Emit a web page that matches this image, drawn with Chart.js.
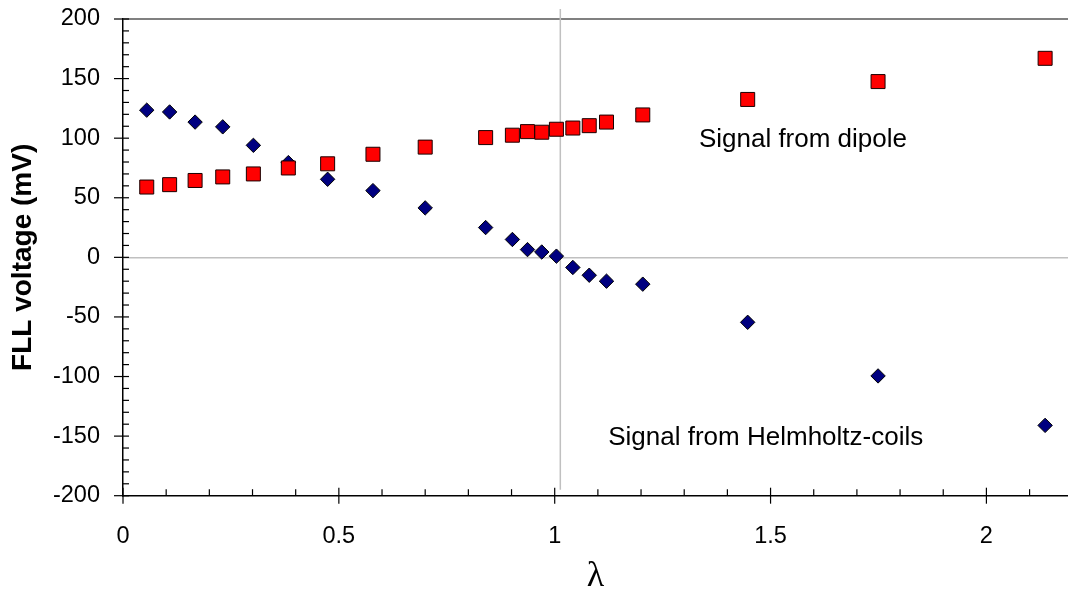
<!DOCTYPE html>
<html>
<head>
<meta charset="utf-8">
<title>FLL voltage</title>
<script src="https://cdn.jsdelivr.net/npm/chart.js@4.4.1/dist/chart.umd.min.js"></script>
<style>
  html, body { margin: 0; padding: 0; background: #fff; }
  #chart { display: block; }
</style>
</head>
<body>
<canvas id="chart" width="1068" height="598"></canvas>
<script>
// lambda for each measurement (same for both signals)
const lambdaVals = [0.055, 0.108, 0.167, 0.231, 0.302, 0.383, 0.474, 0.579, 0.700, 0.840, 0.902, 0.937, 0.970, 1.004, 1.042, 1.080, 1.120, 1.204, 1.447, 1.749, 2.136];
const dipoleMv = [59, 61, 64.5, 67.5, 70, 75, 78.5, 86.5, 92.5, 100.5, 102.5, 105.5, 105, 107.5, 108.5, 110.5, 113.5, 119.5, 132.5, 147.5, 167];
const helmholtzMv = [123.5, 122, 113.5, 109.5, 94, 79.5, 65.5, 56, 41.5, 25, 15, 6.5, 4.5, 1, -8.5, -15, -20, -22.5, -54.5, -99.5, -141];

const yTickLabels = [-200, -150, -100, -50, 0, 50, 100, 150, 200];
const xTickLabels = [0, 0.5, 1, 1.5, 2];

// thin vertical reference line
const markerLambda = 1.013;

// free text labels, placed in data units (left edge / baseline)
const notes = [
  { text: "Signal from dipole", x: 1.334, y: 92.4 },
  { text: "Signal from Helmholtz-coils", x: 1.124, y: -157.2 },
];

const toPoints = (ys) => lambdaVals.map((l, i) => ({ x: l, y: ys[i] }));

// minor/major tick marks, the lambda line and the text labels
const axisDecor = {
  id: "axisDecor",
  beforeDatasetsDraw(chart) {
    const { ctx, chartArea, scales } = chart;
    const x = scales.x;
    const y = scales.y;
    ctx.save();

    ctx.strokeStyle = "#c0c0c0";
    ctx.lineWidth = 1.5;
    const mx = x.getPixelForValue(markerLambda);
    ctx.beginPath();
    ctx.moveTo(mx, chartArea.top - 10);
    ctx.lineTo(mx, chartArea.bottom - 6);
    ctx.stroke();

    ctx.strokeStyle = "#000";
    ctx.lineWidth = 1.2;
    for (let v = -200; v <= 200; v += 10) {
      const py = y.getPixelForValue(v);
      const major = v % 50 === 0;
      ctx.beginPath();
      ctx.moveTo(chartArea.left - (major ? 9 : 0), py);
      ctx.lineTo(chartArea.left + 6, py);
      ctx.stroke();
    }
    for (let i = 0; i / 10 <= x.max; i++) {
      const px = x.getPixelForValue(i / 10);
      const major = i % 5 === 0;
      ctx.beginPath();
      ctx.moveTo(px, chartArea.bottom - (major ? 8 : 6.5));
      ctx.lineTo(px, chartArea.bottom + (major ? 8 : 0));
      ctx.stroke();
    }
    ctx.restore();
  },
  afterDraw(chart) {
    const { ctx, scales } = chart;
    ctx.save();
    ctx.fillStyle = "#000";
    ctx.font = '26px "Liberation Sans", Arial, sans-serif';
    ctx.textAlign = "left";
    ctx.textBaseline = "alphabetic";
    notes.forEach((n) => {
      ctx.fillText(n.text, scales.x.getPixelForValue(n.x), scales.y.getPixelForValue(n.y));
    });
    ctx.restore();
  },
};

const tickFont = { family: '"Liberation Sans", Arial, sans-serif', size: 23.5 };

const ctx = document.getElementById("chart").getContext("2d");
const chart = new Chart(ctx, {
  type: "scatter",
  data: {
    datasets: [
      {
        label: "Signal from dipole",
        data: toPoints(dipoleMv),
        pointStyle: "rect",
        pointRadius: 9.9,
        pointHoverRadius: 9.9,
        backgroundColor: "#ff0000",
        borderColor: "#1a0000",
        borderWidth: 1,
      },
      {
        label: "Signal from Helmholtz-coils",
        data: toPoints(helmholtzMv),
        pointStyle: "rectRot",
        pointRadius: 7.2,
        pointHoverRadius: 7.2,
        backgroundColor: "#000080",
        borderColor: "#000",
        borderWidth: 1,
      },
    ],
  },
  options: {
    responsive: false,
    animation: false,
    layout: { autoPadding: false, padding: { top: 19, right: 0, bottom: 0, left: 0 } },
    plugins: {
      legend: { display: false },
      tooltip: { enabled: false },
    },
    scales: {
      x: {
        type: "linear",
        min: 0,
        max: 2.189,
        afterBuildTicks: (axis) => {
          axis.ticks = xTickLabels.map((v) => ({ value: v }));
        },
        afterFit: (axis) => {
          axis.height = 102.3;
          axis.paddingLeft = 0;
          axis.paddingRight = 0;
        },
        grid: { display: false, drawTicks: false },
        border: { display: true, color: "#000", width: 1.5 },
        ticks: {
          padding: 27,
          color: "#000",
          font: tickFont,
          maxRotation: 0,
          autoSkip: false,
          callback: (v) => String(v),
        },
        title: {
          display: true,
          text: "λ",
          color: "#000",
          font: { family: '"Liberation Serif", "Times New Roman", serif', size: 36 },
          padding: { top: 0, bottom: 0 },
        },
      },
      y: {
        type: "linear",
        min: -200,
        max: 200,
        afterBuildTicks: (axis) => {
          axis.ticks = yTickLabels.map((v) => ({ value: v }));
        },
        afterFit: (axis) => {
          axis.width = 123;
          axis.paddingTop = 0;
          axis.paddingBottom = 0;
        },
        grid: {
          drawTicks: false,
          color: (c) => {
            if (c.tick.value === 0) return "#c0c0c0";
            if (c.tick.value === 200) return "#808080";
            return "rgba(0,0,0,0)";
          },
          lineWidth: (c) => (c.tick.value === 200 ? 2 : 1.5),
        },
        border: { display: true, color: "#000", width: 1.5 },
        ticks: {
          padding: 23,
          color: "#000",
          font: tickFont,
          autoSkip: false,
          callback: (v) => String(v),
        },
        title: {
          display: true,
          text: "FLL voltage (mV)",
          color: "#000",
          font: { family: '"Liberation Sans", Arial, sans-serif', size: 28, weight: "bold" },
          padding: { top: 6, bottom: 0 },
        },
      },
    },
  },
  plugins: [axisDecor],
});
</script>
</body>
</html>
